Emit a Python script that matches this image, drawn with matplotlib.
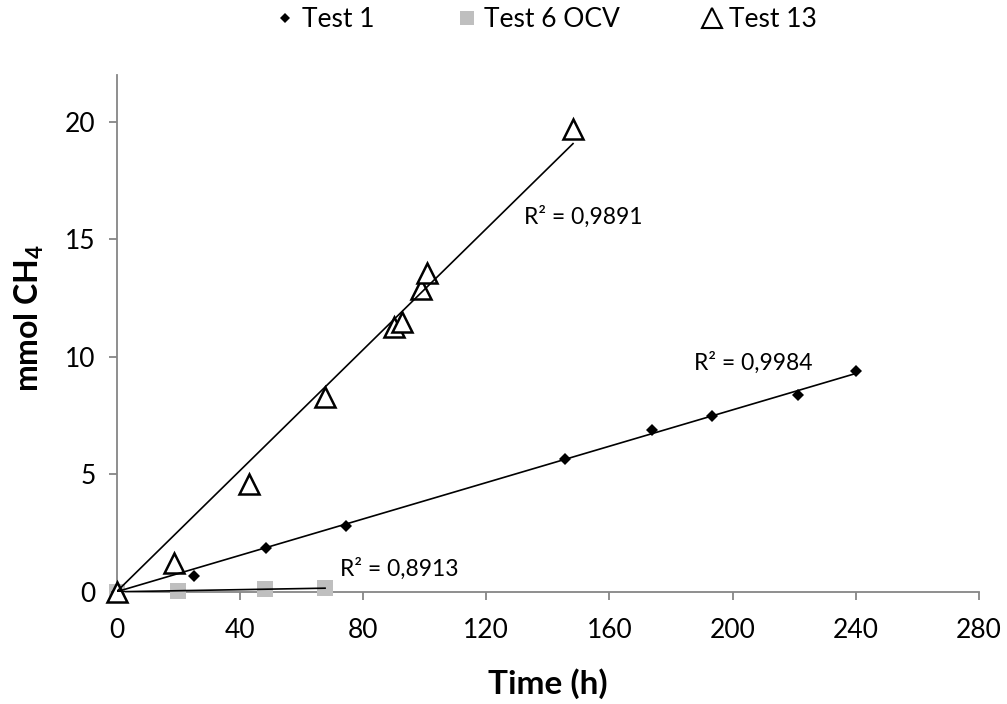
import numpy as np
import matplotlib
matplotlib.use("Agg")
import matplotlib.pyplot as plt
from matplotlib.lines import Line2D

# Test 1
t1_time = [0, 25, 48.6, 74.5, 145.7, 173.7, 193.4, 221.2, 240.1]
t1_ch4 = [0, 0.67, 1.85, 2.81, 5.65, 6.89, 7.49, 8.37, 9.40]

# Test 6 OCV
t6_time = [0, 19.8, 48.3, 67.7]
t6_ch4 = [0, 0.03, 0.12, 0.15]

# Test 13
t13_time = [0, 18.6, 42.9, 67.7, 90.1, 92.8, 99.0, 100.7, 148.2]
t13_ch4 = [0, 1.21, 4.59, 8.28, 11.26, 11.49, 12.87, 13.55, 19.68]

r2_labels = ["R² = 0,9984", "R² = 0,8913", "R² = 0,9891"]

plt.rcParams['font.family'] = ['Lato', 'DejaVu Sans']
plt.rcParams['mathtext.default'] = 'regular'

fig = plt.figure(figsize=(10.07, 7.04), dpi=100)
ax = fig.add_axes([0.1157, 0.1594, 0.8565, 0.7344])

grey = '#BFBFBF'


def trend(ax, x, y):
    # linear trendline forced through the origin, drawn up to the last x
    x = np.asarray(x)
    y = np.asarray(y)
    k = np.sum(x * y) / np.sum(x * x)
    xs = np.array([0, x.max()])
    ax.plot(xs, k * xs, color='black', lw=1.2, zorder=5)


ax.plot(t6_time, t6_ch4, 's', color=grey, ms=12, mew=0, zorder=3, clip_on=False)
ax.plot(t1_time, t1_ch4, 'D', color='black', ms=6.5, mew=0, zorder=3, clip_on=False)
ax.plot(t13_time, t13_ch4, '^', mfc='white', mec='black', ms=14, mew=1.8,
        zorder=4, clip_on=False)

trend(ax, t1_time, t1_ch4)
trend(ax, t6_time, t6_ch4)
trend(ax, t13_time, t13_ch4)

# R² labels placed like the spreadsheet
ax.text(187.5, 9.73, r2_labels[0], fontsize=16.5, va='center', ha='left')
ax.text(72.5, 0.97, r2_labels[1], fontsize=16.5, va='center', ha='left')
ax.text(132.3, 15.95, r2_labels[2], fontsize=16.5, va='center', ha='left')

ax.set_xlim(0, 280)
ax.set_ylim(0, 22)
ax.set_xticks(np.arange(0, 281, 40))
ax.set_yticks(np.arange(0, 21, 5))

for s in ['top', 'right']:
    ax.spines[s].set_visible(False)
for s in ['left', 'bottom']:
    ax.spines[s].set_color('#868686')
    ax.spines[s].set_linewidth(1.3)
ax.tick_params(axis='both', colors='#868686', length=6, width=1.3,
               labelcolor='black', labelsize=19)
ax.tick_params(axis='x', pad=13)
ax.tick_params(axis='y', pad=9)

ax.set_xlabel('Time (h)', fontsize=24, fontweight='bold')
ax.xaxis.set_label_coords(0.5, -0.147)
ax.set_ylabel('mmol CH$_4$', fontsize=23, fontweight='bold')
ax.yaxis.set_label_coords(-0.082, 0.53)

handles = [
    Line2D([], [], marker='D', color='black', ls='none', ms=5.5, mew=0),
    Line2D([], [], marker='s', color=grey, ls='none', ms=10, mew=0),
    Line2D([], [], marker='^', mfc='white', mec='black', ls='none', ms=14, mew=1.5),
]
fig.legend(handles, ['Test 1', 'Test 6 OCV', 'Test 13'], loc='center',
           bbox_to_anchor=(0.542, 0.972), ncol=3, frameon=False, fontsize=19,
           handletextpad=0.25, columnspacing=3.1, handlelength=0.8)

fig.savefig('out.png', dpi=100)
